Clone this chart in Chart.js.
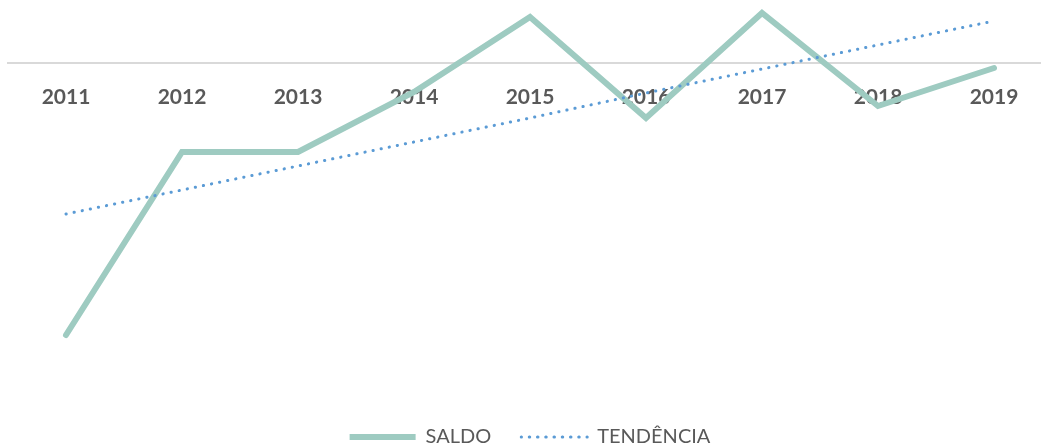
<!DOCTYPE html>
<html>
<head>
<meta charset="utf-8">
<script src="https://cdn.jsdelivr.net/npm/chart.js@4.4.1/dist/chart.umd.min.js"></script>
<style>
  html, body { margin: 0; padding: 0; background: #fff; overflow: hidden; }
  #wrap { position: relative; width: 1052px; height: 457px; }
</style>
</head>
<body>
<div id="wrap"><canvas id="saldo-chart"></canvas></div>
<script>
// Values (arbitrary units, zero = the grey axis line)
const years = ['2011', '2012', '2013', '2014', '2015', '2016', '2017', '2018', '2019'];
const saldo = [-272, -89, -89, -29, 46, -55, 50, -43, -5];
const tendencia = [-151, -127, -103, -79, -55, -30, -6, 18, 42];
const yMin = -334;
const yMax = 63;

const labelColor = '#595959';

new Chart(document.getElementById('saldo-chart'), {
  type: 'line',
  data: {
    labels: years,
    datasets: [
      {
        label: 'SALDO',
        data: saldo,
        borderColor: '#9ecbc1',
        backgroundColor: '#9ecbc1',
        borderWidth: 6,
        borderCapStyle: 'round',
        borderJoinStyle: 'miter',
        pointRadius: 0,
        tension: 0,
        fill: false,
        order: 1
      },
      {
        label: 'TENDÊNCIA',
        data: tendencia,
        borderColor: '#5b9bd5',
        backgroundColor: 'rgba(0,0,0,0)',
        borderWidth: 3,
        borderDash: [0.25, 8],
        borderCapStyle: 'round',
        pointRadius: 0,
        tension: 0,
        fill: false,
        order: 0
      }
    ]
  },
  options: {
    responsive: true,
    maintainAspectRatio: false,
    animation: false,
    layout: { padding: { left: 8, right: 0, top: 0, bottom: 0 } },
    scales: {
      x: {
        type: 'category',
        offset: true,
        position: { y: 0 },
        grid: { display: false, drawTicks: false },
        border: { display: true, color: '#d9d9d9', width: 2 },
        ticks: {
          color: labelColor,
          font: { family: 'Lato', size: 21, weight: 'bold' },
          padding: 22,
          maxRotation: 0,
          autoSkip: false
        },
        // labels hang off the zero line, so the axis needs no room of its own
        afterFit: (scale) => { scale.height = 0; }
      },
      y: {
        display: false,
        min: yMin,
        max: yMax
      }
    },
    plugins: {
      tooltip: { enabled: false },
      legend: {
        position: 'bottom',
        labels: {
          boxWidth: 66,
          boxHeight: 0,
          padding: 30,
          color: labelColor,
          font: { family: 'Lato', size: 20 },
          sort: (a, b) => a.datasetIndex - b.datasetIndex
        }
      }
    }
  }
});
</script>
</body>
</html>
